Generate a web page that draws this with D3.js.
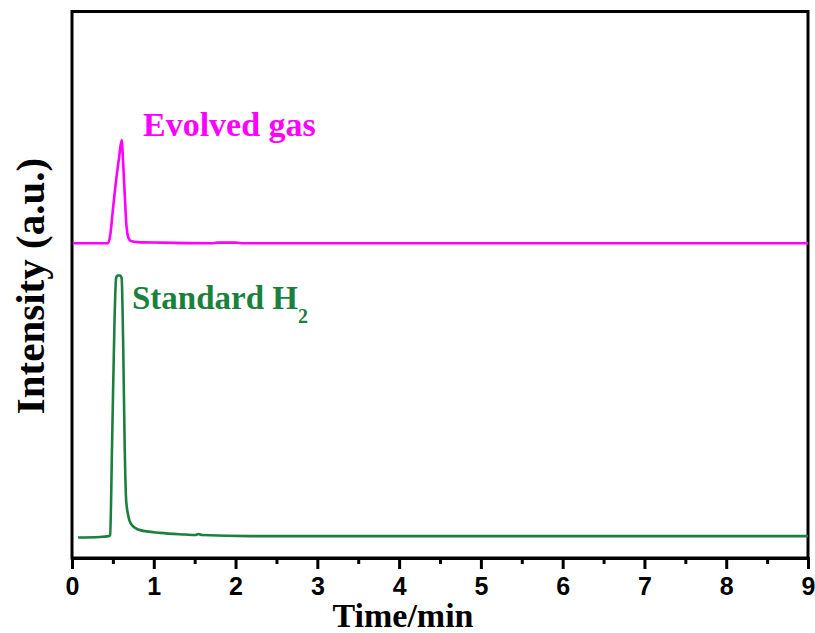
<!DOCTYPE html>
<html>
<head>
<meta charset="utf-8">
<script src="https://cdn.jsdelivr.net/npm/d3@7"></script>
<style>
  html, body { margin: 0; padding: 0; background: #ffffff; }
  svg { display: block; }
</style>
</head>
<body>
<svg id="chart" width="815" height="633"></svg>
<script>
// ---- Data (time in min, intensity in arbitrary units) ----
const xTicks = [0, 1, 2, 3, 4, 5, 6, 7, 8, 9];
const xMinorTicks = [0.5, 1.5, 2.5, 3.5, 4.5, 5.5, 6.5, 7.5, 8.5];

const evolvedTime = [0.012, 0.44, 0.466, 0.50, 0.54, 0.575, 0.607, 0.625, 0.645, 0.665, 0.69, 0.72, 0.8, 1.08, 1.7, 1.78, 2.0, 2.1, 9.0];
const evolvedIntensity = [57.6, 57.6, 58.9, 63.7, 69.2, 73.2, 76.5, 72.5, 66.5, 61.0, 58.6, 58.0, 57.8, 57.7, 57.6, 57.7, 57.7, 57.6, 57.6];

const standardTime = [0.074, 0.34, 0.45, 0.466, 0.49, 0.52, 0.539, 0.557, 0.588, 0.607, 0.625, 0.643, 0.662, 0.686, 0.723, 0.833, 1.08, 1.385, 1.51, 1.545, 1.59, 2.18, 9.0];
const standardIntensity = [3.75, 3.84, 4.0, 4.2, 20.7, 43.5, 51.2, 51.7, 51.7, 51.2, 39.9, 21.6, 10.6, 7.9, 6.2, 5.1, 4.6, 4.3, 4.2, 4.4, 4.2, 4.0, 4.0];

const seriesNames = ["Evolved gas", "Standard H"];
const seriesColors = ["#ff00ff", "#1b7f3e"];

// ---- Layout ----
const svg = d3.select("#chart");
const mLeft = 72, mRight = 808, mTop = 11.5, mBottom = 558;

const x = d3.scaleLinear().domain([0, 9]).range([mLeft, mRight]);
const y = d3.scaleLinear().domain([0, 100]).range([mBottom, mTop]);

// Frame
svg.append("rect")
  .attr("x", mLeft).attr("y", mTop)
  .attr("width", mRight - mLeft).attr("height", mBottom - mTop)
  .attr("fill", "none").attr("stroke", "#000").attr("stroke-width", 3);

// Lines
const line = d3.line()
  .x(d => x(d[0])).y(d => y(d[1]))
  .curve(d3.curveMonotoneX);

const evolved = d3.zip(evolvedTime, evolvedIntensity);
const standard = d3.zip(standardTime, standardIntensity);

svg.append("path").datum(standard)
  .attr("d", line).attr("fill", "none")
  .attr("stroke", seriesColors[1]).attr("stroke-width", 2.6)
  .attr("stroke-linejoin", "round");

svg.append("path").datum(evolved)
  .attr("d", line).attr("fill", "none")
  .attr("stroke", seriesColors[0]).attr("stroke-width", 2.6)
  .attr("stroke-linejoin", "round");

// X axis (major)
const xAxis = svg.append("g")
  .attr("transform", `translate(0,${mBottom})`)
  .call(d3.axisBottom(x).tickValues(xTicks).tickSize(11).tickPadding(8).tickFormat(d3.format("d")));
xAxis.select(".domain").attr("stroke", "#000").attr("stroke-width", 3);
xAxis.selectAll(".tick line").attr("stroke", "#000").attr("stroke-width", 3);
xAxis.selectAll(".tick text")
  .attr("fill", "#000")
  .style("font-family", "'Liberation Sans', Arial, sans-serif")
  .style("font-weight", "bold")
  .style("font-size", "25px");

// X axis (minor)
const xMinor = svg.append("g")
  .attr("transform", `translate(0,${mBottom})`)
  .call(d3.axisBottom(x).tickValues(xMinorTicks).tickSize(6).tickFormat(""));
xMinor.select(".domain").remove();
xMinor.selectAll(".tick line").attr("stroke", "#000").attr("stroke-width", 3);

// Axis titles
svg.append("text")
  .attr("x", 403).attr("y", 627)
  .attr("text-anchor", "middle")
  .style("font-family", "'Liberation Serif', 'Times New Roman', serif")
  .style("font-weight", "bold")
  .style("font-size", "34px")
  .text("Time/min");

svg.append("text")
  .attr("transform", "translate(44,286) rotate(-90)")
  .attr("text-anchor", "middle")
  .style("font-family", "'Liberation Serif', 'Times New Roman', serif")
  .style("font-weight", "bold")
  .style("font-size", "41px")
  .text("Intensity (a.u.)");

// Series labels
svg.append("text")
  .attr("x", 143).attr("y", 136)
  .attr("fill", seriesColors[0])
  .style("font-family", "'Liberation Serif', 'Times New Roman', serif")
  .style("font-weight", "bold")
  .style("font-size", "34px")
  .text(seriesNames[0]);

const stdLabel = svg.append("text")
  .attr("x", 132).attr("y", 309)
  .attr("fill", seriesColors[1])
  .style("font-family", "'Liberation Serif', 'Times New Roman', serif")
  .style("font-weight", "bold")
  .style("font-size", "33px");
stdLabel.append("tspan").text(seriesNames[1]);
stdLabel.append("tspan").attr("dy", 14).style("font-size", "20px").text("2");
</script>
</body>
</html>
